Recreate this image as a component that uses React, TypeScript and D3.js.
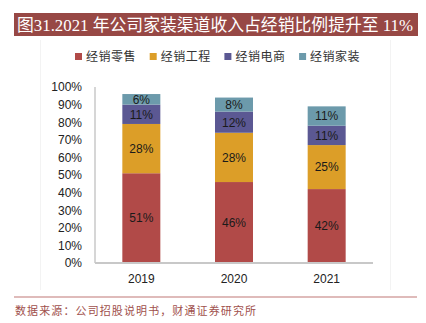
import React from "react";
import * as d3 from "d3";

const years = ["2019", "2020", "2021"];
const seriesNames = ["经销零售", "经销工程", "经销电商", "经销家装"];
const retail = [51, 46, 42];
const engineering = [28, 28, 25];
const ecommerce = [11, 12, 11];
const homeDecor = [6, 8, 11];
const yTicks = [0, 10, 20, 30, 40, 50, 60, 70, 80, 90, 100];
const colors = ["#B14A48", "#DC9E28", "#5B5893", "#6C9AAB"];
const title = "图31.2021 年公司家装渠道收入占经销比例提升至 11%";
const source = "数据来源：公司招股说明书，财通证券研究所";

export default function App() {
  const W = 426, H = 323;
  const plotL = 95, plotR = 373, plotT = 87, plotB = 263;
  const x = d3.scaleBand().domain(years).range([plotL, plotR]).paddingInner(0.59).paddingOuter(0.295);
  const y = d3.scaleLinear().domain([0, 100]).range([plotB, plotT]);
  const table = years.map((yr, i) => ({
    year: yr,
    s0: retail[i], s1: engineering[i], s2: ecommerce[i], s3: homeDecor[i],
  }));
  const stack = d3.stack<any>().keys(["s0", "s1", "s2", "s3"]);
  const layers = stack(table);
  const cjk = '"Noto Sans CJK SC", sans-serif';
  return (
    <svg width={W} height={H} style={{ position: "absolute", left: 0, top: 0, background: "#fff" }}>
      <rect x={0} y={0} width={W} height={H} fill="#fff" />
      {/* title bar */}
      <rect x={14} y={13} width={404} height={23} fill="#974845" />
      <text x={17} y={31} fill="#fff" fontSize={17} textLength={396} lengthAdjust="spacingAndGlyphs"
        style={{ fontFamily: '"Liberation Serif", "Noto Sans CJK SC", serif' }}>{title}</text>
      {/* faint chart border */}
      <line x1={40.5} x2={40.5} y1={40} y2={290} stroke="#f3f3f3" />
      <line x1={390.5} x2={390.5} y1={40} y2={290} stroke="#f3f3f3" />
      {/* legend */}
      {seriesNames.map((n, i) => (
        <g key={n} transform={`translate(${75 + i * 74.7},53)`}>
          <rect x={0} y={0} width={7} height={7} fill={colors[i]} />
          <text x={11} y={8} fontSize={12} fill="#333" style={{ fontFamily: cjk }} letterSpacing={0.5}>{n}</text>
        </g>
      ))}
      {/* y ticks */}
      {yTicks.map((t) => (
        <text key={t} x={82} y={y(t)} dy="0.36em" textAnchor="end" fontSize={12} fill="#222"
          style={{ fontFamily: '"Liberation Sans", Arial, sans-serif' }}>{t}%</text>
      ))}
      {/* bars */}
      {layers.map((layer, li) => (
        <g key={li}>
          {layer.map((d, i) => {
            const x0 = x(years[i])!;
            const y0 = y(d[1]);
            const h = y(d[0]) - y(d[1]);
            return (
              <g key={i}>
                <rect x={x0} y={y0} width={x.bandwidth()} height={h} fill={colors[li]} />
                <text x={x0 + x.bandwidth() / 2} y={y0 + h / 2} dy="0.36em" textAnchor="middle" fontSize={12}
                  fill="#1a1a1a" style={{ fontFamily: '"Liberation Sans", Arial, sans-serif' }}>
                  {d[1] - d[0]}%
                </text>
              </g>
            );
          })}
        </g>
      ))}
      {/* axes */}
      <line x1={plotL} x2={plotL} y1={plotT} y2={plotB} stroke="#c8c8c8" strokeWidth={1.5} />
      <line x1={plotL} x2={plotR} y1={plotB} y2={plotB} stroke="#c8c8c8" strokeWidth={2} />
      {years.map((yr) => (
        <text key={yr} x={x(yr)! + x.bandwidth() / 2} y={283} textAnchor="middle" fontSize={12} fill="#222"
          style={{ fontFamily: '"Liberation Sans", Arial, sans-serif' }}>{yr}</text>
      ))}
      {/* source */}
      <line x1={14} x2={417} y1={297} y2={297} stroke="#D4A5A3" strokeWidth={1.5} />
      <text x={15} y={315} fontSize={11} fill="#A0504C" textLength={241} lengthAdjust="spacing" style={{ fontFamily: cjk }}>{source}</text>
    </svg>
  );
}
